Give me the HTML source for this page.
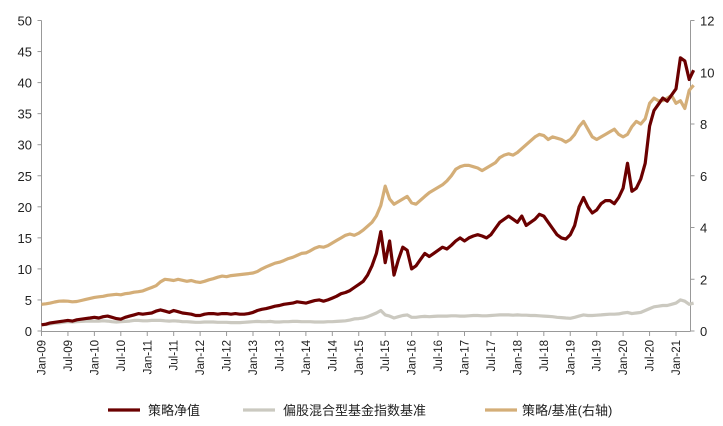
<!DOCTYPE html>
<html><head><meta charset="utf-8"><style>
body{margin:0;background:#fff;}
svg{display:block;font-family:"Liberation Sans","Noto Sans CJK SC",sans-serif;}
</style></head><body>
<svg id="chart" width="723" height="426"></svg>
<script>
const strategy=[
1.0,1.1,1.3,1.4,1.5,1.6,1.7,1.6,1.8,1.9,2.0,2.1,
2.2,2.1,2.3,2.4,2.2,2.0,1.9,2.2,2.4,2.6,2.8,2.7,
2.8,2.9,3.2,3.4,3.2,3.0,3.3,3.1,2.9,2.8,2.7,2.5,
2.5,2.7,2.8,2.8,2.7,2.8,2.8,2.7,2.8,2.7,2.7,2.8,
3.0,3.3,3.5,3.6,3.8,4.0,4.1,4.3,4.4,4.5,4.7,4.6,
4.5,4.7,4.9,5.0,4.8,5.0,5.3,5.6,6.0,6.2,6.5,7.0,
7.5,8.0,9.0,10.5,12.5,16.0,11.0,14.5,9.0,11.5,13.5,13.0,
10.0,10.5,11.5,12.5,12.0,12.5,13.0,13.5,13.2,13.8,14.5,15.0,
14.5,15.0,15.3,15.5,15.3,15.0,15.5,16.5,17.5,18.0,18.5,18.0,
17.5,18.5,17.0,17.5,18.0,18.8,18.5,17.5,16.5,15.5,15.0,14.8,
15.5,17.0,20.0,21.5,20.0,19.0,19.5,20.5,21.0,21.0,20.5,21.5,
23.0,27.0,22.5,23.0,24.5,27.0,33.0,35.5,36.5,37.5,37.0,38.0,
39.0,44.0,43.5,40.5,42.0];
const benchmark=[
1.0,1.05,1.15,1.25,1.3,1.4,1.5,1.45,1.5,1.55,1.6,1.6,
1.6,1.6,1.65,1.6,1.5,1.45,1.5,1.55,1.6,1.7,1.7,1.65,
1.65,1.7,1.7,1.7,1.65,1.6,1.65,1.6,1.5,1.5,1.45,1.4,
1.4,1.45,1.45,1.45,1.4,1.4,1.4,1.35,1.35,1.35,1.4,1.45,
1.5,1.55,1.5,1.5,1.55,1.45,1.45,1.5,1.5,1.55,1.55,1.5,
1.5,1.5,1.45,1.45,1.45,1.5,1.5,1.55,1.6,1.65,1.75,1.95,
2.0,2.1,2.3,2.6,2.9,3.3,2.6,2.4,2.1,2.3,2.5,2.6,
2.2,2.2,2.3,2.35,2.3,2.35,2.4,2.4,2.4,2.45,2.45,2.4,
2.4,2.45,2.5,2.5,2.45,2.45,2.5,2.55,2.6,2.6,2.6,2.55,
2.6,2.55,2.55,2.5,2.5,2.45,2.4,2.35,2.3,2.2,2.15,2.1,
2.05,2.2,2.4,2.6,2.5,2.5,2.55,2.6,2.65,2.7,2.7,2.75,
2.9,3.0,2.8,2.9,3.0,3.3,3.6,3.9,4.0,4.1,4.1,4.3,
4.5,5.0,4.8,4.3,4.5];
const ratio=[
1.03,1.05,1.08,1.12,1.15,1.16,1.15,1.13,1.14,1.18,1.22,1.26,
1.3,1.32,1.34,1.38,1.4,1.42,1.40,1.44,1.46,1.50,1.52,1.55,
1.62,1.68,1.75,1.90,2.00,1.98,1.95,2.00,1.96,1.92,1.95,1.90,
1.88,1.92,1.98,2.02,2.08,2.12,2.10,2.14,2.16,2.18,2.20,2.22,
2.24,2.30,2.40,2.48,2.55,2.62,2.66,2.72,2.80,2.85,2.92,3.0,
3.02,3.10,3.20,3.26,3.24,3.30,3.40,3.50,3.60,3.70,3.75,3.70,
3.78,3.90,4.05,4.20,4.45,4.85,5.60,5.10,4.90,5.00,5.10,5.20,
4.95,4.90,5.05,5.20,5.35,5.45,5.55,5.65,5.80,6.00,6.25,6.35,
6.40,6.40,6.35,6.30,6.20,6.30,6.40,6.50,6.70,6.80,6.85,6.80,
6.90,7.05,7.20,7.35,7.50,7.60,7.55,7.40,7.50,7.45,7.40,7.30,
7.40,7.60,7.90,8.10,7.80,7.50,7.40,7.50,7.60,7.70,7.80,7.60,
7.50,7.60,7.90,8.10,8.00,8.20,8.80,9.00,8.90,8.90,9.00,9.10,
8.80,8.90,8.60,9.30,9.50];
const leftTicks=[0,5,10,15,20,25,30,35,40,45,50];
const rightTicks=[0,2,4,6,8,10,12];
const xLabels=["Jan-09","Jul-09","Jan-10","Jul-10","Jan-11","Jul-11","Jan-12","Jul-12","Jan-13","Jul-13","Jan-14","Jul-14","Jan-15","Jul-15","Jan-16","Jul-16","Jan-17","Jul-17","Jan-18","Jul-18","Jan-19","Jul-19","Jan-20","Jul-20","Jan-21"];

const svg=document.getElementById('chart');
const NS='http://www.w3.org/2000/svg';
const X0=41.5,X1=690.5,Y0=331,Y1=20.5;
const monthW=(676-41.5)/144;
const xS=m=>X0+m*monthW;
const yL=v=>Y0-(v/50)*(Y0-Y1);
const yR=v=>Y0-(v/12)*(Y0-Y1);
function mk(tag,attrs){const e=document.createElementNS(NS,tag);for(const k in attrs)e.setAttribute(k,attrs[k]);svg.appendChild(e);return e;}

// axes
let a=mk('line',{x1:X0,y1:Y1,x2:X0,y2:Y0,stroke:'#999','stroke-width':1});


a=mk('line',{x1:X1,y1:Y1,x2:X1,y2:Y0,stroke:'#999','stroke-width':1});


a=mk('line',{x1:X0,y1:Y0+0.5,x2:X1,y2:Y0+0.5,stroke:'#999','stroke-width':1});



leftTicks.forEach(v=>{
  const y=yL(v);
  mk('line',{x1:X0-4,y1:y,x2:X0,y2:y,stroke:'#999'});
  const t=mk('text',{x:32,y:y+5,'text-anchor':'end','font-size':13,fill:'#222'});
  t.textContent=v;
  
  
});
rightTicks.forEach(v=>{
  const y=yR(v);
  mk('line',{x1:X1,y1:y,x2:X1+4,y2:y,stroke:'#999'});
  const t=mk('text',{x:700,y:y+5,'text-anchor':'start','font-size':13,fill:'#222'});
  t.textContent=v;
  
  
});
xLabels.forEach((s,i)=>{
  const x=xS(i*6);
  mk('line',{x1:x,y1:Y0,x2:x,y2:Y0+5,stroke:'#999'});
  const t=mk('text',{x:0,y:0,'text-anchor':'end','font-size':11.5,fill:'#222',transform:`translate(${x+4},${Y0+9}) rotate(-90)`});
  t.textContent=s;
  
  
});

function series(arr,yf,color,name){
  const d=arr.map((v,i)=>(i?'L':'M')+xS(i).toFixed(1)+','+yf(v).toFixed(1)).join('');
  const p=mk('path',{d:d,fill:'none',stroke:color,'stroke-width':3.2,'stroke-linejoin':'round'});
  
  
}
series(ratio,yR,'#d4ae78','ratio-line');
series(benchmark,yL,'#cbc9c0','benchmark-line');
series(strategy,yL,'#6b0000','strategy-line');

// legend
const leg=[[108,148,'#6b0000','策略净值','legend-strategy'],[243,283,'#cbc9c0','偏股混合型基金指数基准','legend-benchmark'],[485,522,'#d4ae78','策略/基准(右轴)','legend-ratio']];
leg.forEach(l=>{
  const ln=mk('line',{x1:l[0],y1:410,x2:l[0]+32,y2:410,stroke:l[2],'stroke-width':3.2});
  
  
  const t=mk('text',{x:l[1],y:415,'font-size':13,fill:'#222'});
  t.textContent=l[3];
  
  
});
</script>
</body></html>
